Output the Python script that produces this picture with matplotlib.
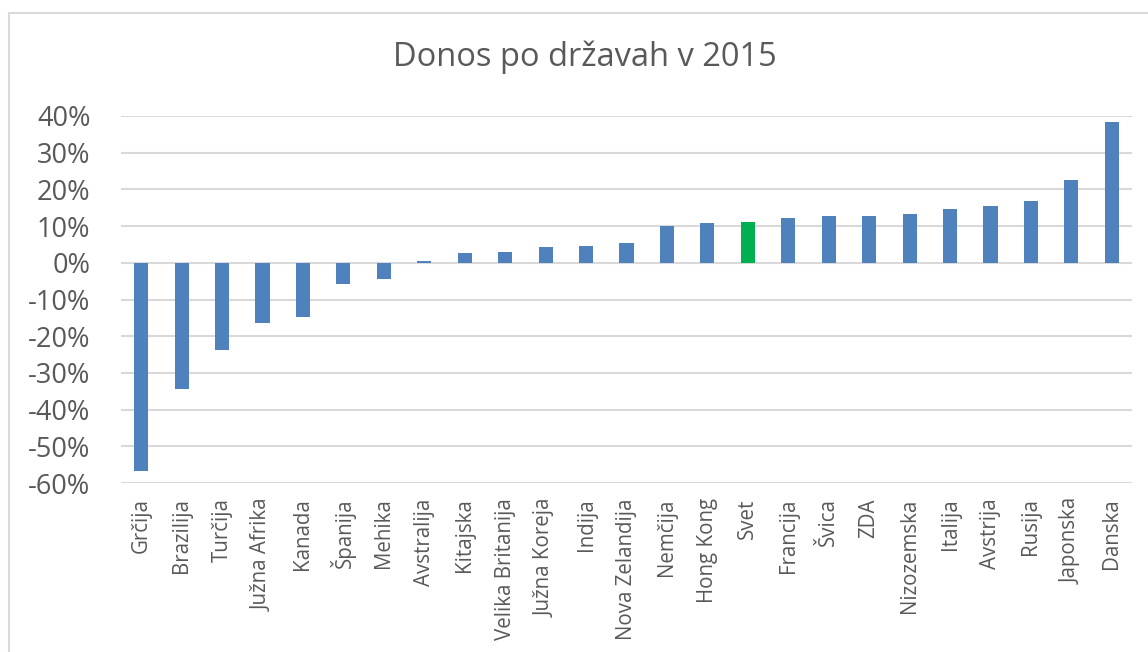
import matplotlib.pyplot as plt
from matplotlib.patches import Rectangle
from matplotlib.ticker import FuncFormatter

drzave = ['Grčija', 'Brazilija', 'Turčija', 'Južna Afrika', 'Kanada', 'Španija',
          'Mehika', 'Avstralija', 'Kitajska', 'Velika Britanija', 'Južna Koreja',
          'Indija', 'Nova Zelandija', 'Nemčija', 'Hong Kong', 'Svet', 'Francija',
          'Švica', 'ZDA', 'Nizozemska', 'Italija', 'Avstrija', 'Rusija',
          'Japonska', 'Danska']
donos = [-56.6, -34.4, -23.7, -16.5, -14.8, -5.7, -4.5, 0.4, 2.8, 3.0, 4.4,
         4.6, 5.4, 10.0, 10.8, 11.1, 12.3, 12.7, 12.8, 13.3, 14.7, 15.6, 16.9,
         22.5, 38.5]
yticks = [-60, -50, -40, -30, -20, -10, 0, 10, 20, 30, 40]

plt.rcParams['font.family'] = ['Open Sans', 'DejaVu Sans']
siva = '#595959'

fig = plt.figure(figsize=(11.48, 6.52), dpi=100)
ax = fig.add_axes([121 / 1148, 1 - 483 / 652, (1132 - 121) / 1148, (483 - 116) / 652])

barve = ['#00b050' if d == 'Svet' else '#4f81bd' for d in drzave]
ax.bar(range(len(drzave)), donos, width=0.35, color=barve, zorder=3)

ax.set_ylim(-60, 40)
ax.set_xlim(-0.5, len(drzave) - 0.5)
ax.set_yticks(yticks)
ax.yaxis.set_major_formatter(FuncFormatter(lambda v, p: '%d%%' % v))
ax.set_xticks(range(len(drzave)))
ax.set_xticklabels(drzave, rotation=90, fontsize=14.8, color=siva)
ax.tick_params(axis='y', labelsize=19.5, colors=siva, length=0, pad=22)
ax.tick_params(axis='x', length=0, pad=11)
ax.grid(axis='y', color='#d9d9d9', linewidth=1.5, zorder=0)
for s in ax.spines.values():
    s.set_visible(False)

fig.text(585 / 1148, 1 - 57 / 652, 'Donos po državah v 2015', fontsize=23.5,
         color=siva, ha='center', va='center')

# okvir grafikona
fig.patches.append(Rectangle((8.5 / 1148, -0.1), 1.2, 1.1 - 12.5 / 652,
                             transform=fig.transFigure, fill=False,
                             edgecolor='#d9d9d9', linewidth=1.5))

fig.savefig('out.png', dpi=100)
